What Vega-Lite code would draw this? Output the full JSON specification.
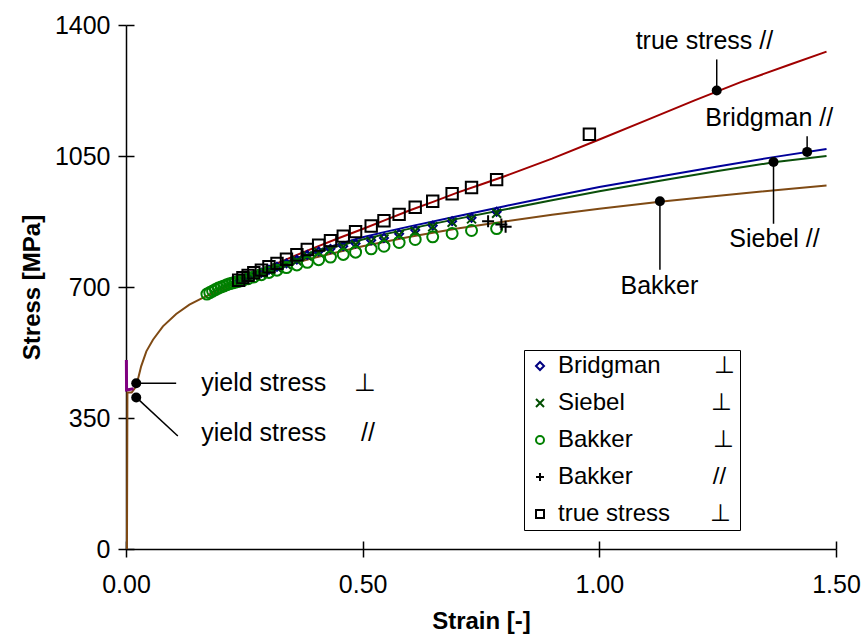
{
  "$schema": "https://vega.github.io/schema/vega-lite/v6.json",
  "width": 710,
  "height": 524,
  "autosize": {"type": "none"},
  "padding": {"left": 126, "top": 25, "right": 28, "bottom": 90},
  "background": "white",
  "config": {
    "view": {"stroke": null},
    "font": "Liberation Sans",
    "axis": {
      "domainColor": "black", "domainWidth": 1.5,
      "tickColor": "black", "tickWidth": 1.5, "tickSize": 8,
      "labelFont": "Liberation Sans", "labelFontSize": 25, "labelColor": "black", "labelFlush": false,
      "titleFont": "Liberation Sans", "titleFontSize": 24, "titleFontWeight": "bold", "titleColor": "black",
      "grid": true, "gridColor": "black", "gridWidth": 1.5, "gridOpacity": 1
    },
    "legend": {"strokeWidth": 1}
  },
  "datasets": {
    "curves": [
      {"curve": "true stress //", "strain": 0.177, "stress": 683},
      {"curve": "true stress //", "strain": 0.24, "stress": 720},
      {"curve": "true stress //", "strain": 0.3, "stress": 753},
      {"curve": "true stress //", "strain": 0.35, "stress": 780},
      {"curve": "true stress //", "strain": 0.4, "stress": 806},
      {"curve": "true stress //", "strain": 0.45, "stress": 831},
      {"curve": "true stress //", "strain": 0.5, "stress": 855},
      {"curve": "true stress //", "strain": 0.55, "stress": 880},
      {"curve": "true stress //", "strain": 0.6, "stress": 905},
      {"curve": "true stress //", "strain": 0.65, "stress": 928},
      {"curve": "true stress //", "strain": 0.7, "stress": 952},
      {"curve": "true stress //", "strain": 0.75, "stress": 974},
      {"curve": "true stress //", "strain": 0.8, "stress": 996},
      {"curve": "true stress //", "strain": 0.9, "stress": 1043},
      {"curve": "true stress //", "strain": 1.0, "stress": 1094},
      {"curve": "true stress //", "strain": 1.1, "stress": 1146},
      {"curve": "true stress //", "strain": 1.2, "stress": 1198},
      {"curve": "true stress //", "strain": 1.3, "stress": 1248},
      {"curve": "true stress //", "strain": 1.4, "stress": 1293},
      {"curve": "true stress //", "strain": 1.48, "stress": 1329},
      {"curve": "Bridgman //", "strain": 0.177, "stress": 681},
      {"curve": "Bridgman //", "strain": 0.2, "stress": 695},
      {"curve": "Bridgman //", "strain": 0.24, "stress": 716},
      {"curve": "Bridgman //", "strain": 0.3, "stress": 748},
      {"curve": "Bridgman //", "strain": 0.35, "stress": 772},
      {"curve": "Bridgman //", "strain": 0.4, "stress": 795},
      {"curve": "Bridgman //", "strain": 0.45, "stress": 815},
      {"curve": "Bridgman //", "strain": 0.5, "stress": 833},
      {"curve": "Bridgman //", "strain": 0.55, "stress": 848},
      {"curve": "Bridgman //", "strain": 0.6, "stress": 862},
      {"curve": "Bridgman //", "strain": 0.7, "stress": 889},
      {"curve": "Bridgman //", "strain": 0.8, "stress": 916},
      {"curve": "Bridgman //", "strain": 0.9, "stress": 942},
      {"curve": "Bridgman //", "strain": 1.0, "stress": 967},
      {"curve": "Bridgman //", "strain": 1.128, "stress": 995},
      {"curve": "Bridgman //", "strain": 1.25, "stress": 1022},
      {"curve": "Bridgman //", "strain": 1.368, "stress": 1047},
      {"curve": "Bridgman //", "strain": 1.48, "stress": 1069},
      {"curve": "Siebel //", "strain": 0.177, "stress": 680},
      {"curve": "Siebel //", "strain": 0.2, "stress": 694},
      {"curve": "Siebel //", "strain": 0.24, "stress": 714},
      {"curve": "Siebel //", "strain": 0.3, "stress": 745},
      {"curve": "Siebel //", "strain": 0.35, "stress": 769},
      {"curve": "Siebel //", "strain": 0.4, "stress": 791},
      {"curve": "Siebel //", "strain": 0.45, "stress": 810},
      {"curve": "Siebel //", "strain": 0.5, "stress": 827},
      {"curve": "Siebel //", "strain": 0.55, "stress": 842},
      {"curve": "Siebel //", "strain": 0.6, "stress": 856},
      {"curve": "Siebel //", "strain": 0.7, "stress": 882},
      {"curve": "Siebel //", "strain": 0.8, "stress": 907},
      {"curve": "Siebel //", "strain": 0.9, "stress": 932},
      {"curve": "Siebel //", "strain": 1.0, "stress": 956},
      {"curve": "Siebel //", "strain": 1.128, "stress": 984},
      {"curve": "Siebel //", "strain": 1.25, "stress": 1010},
      {"curve": "Siebel //", "strain": 1.368, "stress": 1033},
      {"curve": "Siebel //", "strain": 1.48, "stress": 1050},
      {"curve": "Bakker", "strain": 0.002, "stress": 0},
      {"curve": "Bakker", "strain": 0.003, "stress": 418},
      {"curve": "Bakker", "strain": 0.012, "stress": 418},
      {"curve": "Bakker", "strain": 0.02, "stress": 432},
      {"curve": "Bakker", "strain": 0.025, "stress": 452},
      {"curve": "Bakker", "strain": 0.032, "stress": 488},
      {"curve": "Bakker", "strain": 0.043, "stress": 528},
      {"curve": "Bakker", "strain": 0.057, "stress": 559},
      {"curve": "Bakker", "strain": 0.078, "stress": 595},
      {"curve": "Bakker", "strain": 0.106, "stress": 628},
      {"curve": "Bakker", "strain": 0.134, "stress": 653},
      {"curve": "Bakker", "strain": 0.162, "stress": 671},
      {"curve": "Bakker", "strain": 0.2, "stress": 693},
      {"curve": "Bakker", "strain": 0.25, "stress": 720},
      {"curve": "Bakker", "strain": 0.3, "stress": 742},
      {"curve": "Bakker", "strain": 0.35, "stress": 762},
      {"curve": "Bakker", "strain": 0.4, "stress": 779},
      {"curve": "Bakker", "strain": 0.5, "stress": 809},
      {"curve": "Bakker", "strain": 0.6, "stress": 834},
      {"curve": "Bakker", "strain": 0.7, "stress": 856},
      {"curve": "Bakker", "strain": 0.8, "stress": 875},
      {"curve": "Bakker", "strain": 0.9, "stress": 893},
      {"curve": "Bakker", "strain": 1.0, "stress": 909},
      {"curve": "Bakker", "strain": 1.128, "stress": 928},
      {"curve": "Bakker", "strain": 1.2, "stress": 937},
      {"curve": "Bakker", "strain": 1.3, "stress": 950},
      {"curve": "Bakker", "strain": 1.4, "stress": 962},
      {"curve": "Bakker", "strain": 1.48, "stress": 971}
    ],
    "purple": [
      {"strain": 0.0008, "stress": 505},
      {"strain": 0.0012, "stress": 425},
      {"strain": 0.016, "stress": 428}
    ],
    "pts": [
      {"series": "Bridgman ⊥", "strain": 0.238, "stress": 715},
      {"series": "Bridgman ⊥", "strain": 0.247, "stress": 721},
      {"series": "Bridgman ⊥", "strain": 0.258, "stress": 726},
      {"series": "Bridgman ⊥", "strain": 0.270, "stress": 732},
      {"series": "Bridgman ⊥", "strain": 0.286, "stress": 738},
      {"series": "Bridgman ⊥", "strain": 0.302, "stress": 746},
      {"series": "Bridgman ⊥", "strain": 0.319, "stress": 754},
      {"series": "Bridgman ⊥", "strain": 0.339, "stress": 763},
      {"series": "Bridgman ⊥", "strain": 0.361, "stress": 773},
      {"series": "Bridgman ⊥", "strain": 0.383, "stress": 786},
      {"series": "Bridgman ⊥", "strain": 0.407, "stress": 795},
      {"series": "Bridgman ⊥", "strain": 0.432, "stress": 802},
      {"series": "Bridgman ⊥", "strain": 0.459, "stress": 809},
      {"series": "Bridgman ⊥", "strain": 0.485, "stress": 816},
      {"series": "Bridgman ⊥", "strain": 0.518, "stress": 825},
      {"series": "Bridgman ⊥", "strain": 0.545, "stress": 831},
      {"series": "Bridgman ⊥", "strain": 0.577, "stress": 842},
      {"series": "Bridgman ⊥", "strain": 0.611, "stress": 852},
      {"series": "Bridgman ⊥", "strain": 0.648, "stress": 864},
      {"series": "Bridgman ⊥", "strain": 0.689, "stress": 876},
      {"series": "Bridgman ⊥", "strain": 0.730, "stress": 885},
      {"series": "Bridgman ⊥", "strain": 0.783, "stress": 901},
      {"series": "Siebel ⊥", "strain": 0.238, "stress": 713},
      {"series": "Siebel ⊥", "strain": 0.247, "stress": 718},
      {"series": "Siebel ⊥", "strain": 0.258, "stress": 723},
      {"series": "Siebel ⊥", "strain": 0.270, "stress": 729},
      {"series": "Siebel ⊥", "strain": 0.286, "stress": 735},
      {"series": "Siebel ⊥", "strain": 0.302, "stress": 743},
      {"series": "Siebel ⊥", "strain": 0.319, "stress": 751},
      {"series": "Siebel ⊥", "strain": 0.339, "stress": 760},
      {"series": "Siebel ⊥", "strain": 0.361, "stress": 770},
      {"series": "Siebel ⊥", "strain": 0.383, "stress": 783},
      {"series": "Siebel ⊥", "strain": 0.407, "stress": 792},
      {"series": "Siebel ⊥", "strain": 0.432, "stress": 799},
      {"series": "Siebel ⊥", "strain": 0.459, "stress": 806},
      {"series": "Siebel ⊥", "strain": 0.485, "stress": 813},
      {"series": "Siebel ⊥", "strain": 0.518, "stress": 822},
      {"series": "Siebel ⊥", "strain": 0.545, "stress": 828},
      {"series": "Siebel ⊥", "strain": 0.577, "stress": 839},
      {"series": "Siebel ⊥", "strain": 0.611, "stress": 849},
      {"series": "Siebel ⊥", "strain": 0.648, "stress": 861},
      {"series": "Siebel ⊥", "strain": 0.689, "stress": 873},
      {"series": "Siebel ⊥", "strain": 0.730, "stress": 882},
      {"series": "Siebel ⊥", "strain": 0.783, "stress": 897},
      {"series": "Bakker ⊥", "strain": 0.171, "stress": 681},
      {"series": "Bakker ⊥", "strain": 0.177, "stress": 685},
      {"series": "Bakker ⊥", "strain": 0.183, "stress": 689},
      {"series": "Bakker ⊥", "strain": 0.189, "stress": 693},
      {"series": "Bakker ⊥", "strain": 0.195, "stress": 697},
      {"series": "Bakker ⊥", "strain": 0.201, "stress": 700},
      {"series": "Bakker ⊥", "strain": 0.207, "stress": 703},
      {"series": "Bakker ⊥", "strain": 0.213, "stress": 706},
      {"series": "Bakker ⊥", "strain": 0.219, "stress": 709},
      {"series": "Bakker ⊥", "strain": 0.225, "stress": 711},
      {"series": "Bakker ⊥", "strain": 0.231, "stress": 713},
      {"series": "Bakker ⊥", "strain": 0.238, "stress": 715},
      {"series": "Bakker ⊥", "strain": 0.247, "stress": 718},
      {"series": "Bakker ⊥", "strain": 0.258, "stress": 722},
      {"series": "Bakker ⊥", "strain": 0.270, "stress": 727},
      {"series": "Bakker ⊥", "strain": 0.286, "stress": 733},
      {"series": "Bakker ⊥", "strain": 0.302, "stress": 739},
      {"series": "Bakker ⊥", "strain": 0.319, "stress": 745},
      {"series": "Bakker ⊥", "strain": 0.339, "stress": 752},
      {"series": "Bakker ⊥", "strain": 0.361, "stress": 759},
      {"series": "Bakker ⊥", "strain": 0.383, "stress": 766},
      {"series": "Bakker ⊥", "strain": 0.407, "stress": 773},
      {"series": "Bakker ⊥", "strain": 0.432, "stress": 780},
      {"series": "Bakker ⊥", "strain": 0.459, "stress": 787},
      {"series": "Bakker ⊥", "strain": 0.485, "stress": 793},
      {"series": "Bakker ⊥", "strain": 0.518, "stress": 802},
      {"series": "Bakker ⊥", "strain": 0.545, "stress": 809},
      {"series": "Bakker ⊥", "strain": 0.577, "stress": 819},
      {"series": "Bakker ⊥", "strain": 0.611, "stress": 827},
      {"series": "Bakker ⊥", "strain": 0.648, "stress": 834},
      {"series": "Bakker ⊥", "strain": 0.689, "stress": 843},
      {"series": "Bakker ⊥", "strain": 0.730, "stress": 851},
      {"series": "Bakker ⊥", "strain": 0.783, "stress": 856},
      {"series": "Bakker //", "strain": 0.765, "stress": 876},
      {"series": "Bakker //", "strain": 0.793, "stress": 867},
      {"series": "Bakker //", "strain": 0.802, "stress": 861},
      {"series": "true stress ⊥", "strain": 0.238, "stress": 718},
      {"series": "true stress ⊥", "strain": 0.247, "stress": 725},
      {"series": "true stress ⊥", "strain": 0.258, "stress": 731},
      {"series": "true stress ⊥", "strain": 0.270, "stress": 738},
      {"series": "true stress ⊥", "strain": 0.286, "stress": 745},
      {"series": "true stress ⊥", "strain": 0.302, "stress": 754},
      {"series": "true stress ⊥", "strain": 0.319, "stress": 763},
      {"series": "true stress ⊥", "strain": 0.339, "stress": 774},
      {"series": "true stress ⊥", "strain": 0.361, "stress": 786},
      {"series": "true stress ⊥", "strain": 0.383, "stress": 800},
      {"series": "true stress ⊥", "strain": 0.407, "stress": 812},
      {"series": "true stress ⊥", "strain": 0.432, "stress": 824},
      {"series": "true stress ⊥", "strain": 0.459, "stress": 836},
      {"series": "true stress ⊥", "strain": 0.485, "stress": 848},
      {"series": "true stress ⊥", "strain": 0.518, "stress": 863},
      {"series": "true stress ⊥", "strain": 0.545, "stress": 877},
      {"series": "true stress ⊥", "strain": 0.577, "stress": 894},
      {"series": "true stress ⊥", "strain": 0.611, "stress": 913},
      {"series": "true stress ⊥", "strain": 0.648, "stress": 929},
      {"series": "true stress ⊥", "strain": 0.689, "stress": 949},
      {"series": "true stress ⊥", "strain": 0.730, "stress": 966},
      {"series": "true stress ⊥", "strain": 0.783, "stress": 987},
      {"series": "true stress ⊥", "strain": 0.979, "stress": 1108}
    ],
    "leaders": [
      {"strain": 0.0216, "stress": 443, "strain2": 0.106, "stress2": 443},
      {"strain": 0.0216, "stress": 405, "strain2": 0.1095, "stress2": 302},
      {"strain": 1.248, "stress": 1225, "strain2": 1.248, "stress2": 1308},
      {"strain": 1.439, "stress": 1061, "strain2": 1.439, "stress2": 1103},
      {"strain": 1.368, "stress": 1034, "strain2": 1.368, "stress2": 869},
      {"strain": 1.128, "stress": 929, "strain2": 1.128, "stress2": 746}
    ],
    "dots": [
      {"strain": 0.0216, "stress": 443},
      {"strain": 0.0216, "stress": 405},
      {"strain": 1.248, "stress": 1225},
      {"strain": 1.439, "stress": 1061},
      {"strain": 1.368, "stress": 1034},
      {"strain": 1.128, "stress": 929}
    ],
    "labelsCenter": [
      {"label": "true stress //", "strain": 1.222, "stress": 1357},
      {"label": "Bridgman //", "strain": 1.359, "stress": 1152},
      {"label": "Siebel //", "strain": 1.37, "stress": 827},
      {"label": "Bakker", "strain": 1.127, "stress": 702}
    ],
    "labelsLeft": [
      {"label": "yield stress\u00a0\u00a0\u00a0\u00a0⊥", "strain": 0.159, "stress": 443},
      {"label": "yield stress\u00a0\u00a0\u00a0\u00a0\u00a0//", "strain": 0.159, "stress": 310}
    ]
  },
  "encoding": {
    "x": {
      "field": "strain", "type": "quantitative",
      "scale": {"domain": [0, 1.5], "nice": false, "zero": false},
      "axis": {"values": [0, 0.5, 1, 1.5], "format": ".2f", "title": "Strain [-]", "labelPadding": 15, "titlePadding": 12, "gridDash": [0, 516, 8, 3000]}
    },
    "y": {
      "field": "stress", "type": "quantitative",
      "scale": {"domain": [0, 1400], "nice": false, "zero": false},
      "axis": {"values": [0, 350, 700, 1050, 1400], "format": "d", "title": "Stress [MPa]", "labelPadding": 8, "titlePadding": 10, "gridDash": [8, 3000]}
    }
  },
  "layer": [
    {
      "data": {"name": "curves"},
      "mark": {"type": "line", "strokeWidth": 2},
      "encoding": {
        "stroke": {
          "field": "curve", "type": "nominal",
          "scale": {"domain": ["true stress //", "Bridgman //", "Siebel //", "Bakker"], "range": ["#a00000", "#000099", "#0a4f0a", "#7f4a14"]},
          "legend": null
        }
      }
    },
    {
      "data": {"name": "purple"},
      "mark": {"type": "line", "strokeWidth": 3, "color": "#800080"},
      "encoding": {}
    },
    {
      "data": {"name": "pts"},
      "transform": [{"filter": "datum.series === 'Bridgman ⊥'"}],
      "mark": {"type": "point", "filled": false, "size": 64, "strokeWidth": 2, "opacity": 1},
      "encoding": {
        "color": {"field": "series", "type": "nominal", "scale": {"domain": ["Bridgman ⊥", "Siebel ⊥", "Bakker ⊥", "Bakker //", "true stress ⊥"], "range": ["#000080", "#004d00", "#008000", "#000000", "#000000"]},
          "legend": {"title": null, "orient": "none", "legendX": 398, "legendY": 325, "labelExpr": "datum.label === 'Bridgman ⊥' ? 'Bridgman\u00a0\u00a0\u00a0\u00a0\u00a0\u00a0\u00a0\u00a0⊥' : datum.label === 'Siebel ⊥' ? 'Siebel\u00a0\u00a0\u00a0\u00a0\u00a0\u00a0\u00a0\u00a0\u00a0\u00a0\u00a0\u00a0\u00a0⊥' : datum.label === 'Bakker ⊥' ? 'Bakker\u00a0\u00a0\u00a0\u00a0\u00a0\u00a0\u00a0\u00a0\u00a0\u00a0\u00a0\u00a0⊥' : datum.label === 'Bakker //' ? 'Bakker\u00a0\u00a0\u00a0\u00a0\u00a0\u00a0\u00a0\u00a0\u00a0\u00a0\u00a0\u00a0//' : 'true stress\u00a0\u00a0\u00a0\u00a0\u00a0\u00a0⊥\u00a0'", "symbolSize": 64, "symbolStrokeWidth": 2, "labelFontSize": 24, "labelFont": "Liberation Sans", "labelColor": "black", "strokeColor": "black", "fillColor": "white", "padding": 4, "rowPadding": 13, "labelOffset": 6, "labelLimit": 400}},
        "shape": {"field": "series", "type": "nominal", "scale": {"domain": ["Bridgman ⊥", "Siebel ⊥", "Bakker ⊥", "Bakker //", "true stress ⊥"], "range": ["diamond", "M-1,-1L1,1M-1,1L1,-1", "circle", "M-1,0L1,0M0,-1L0,1", "square"]},
          "legend": {"title": null, "orient": "none", "legendX": 398, "legendY": 325, "labelExpr": "datum.label === 'Bridgman ⊥' ? 'Bridgman\u00a0\u00a0\u00a0\u00a0\u00a0\u00a0\u00a0\u00a0⊥' : datum.label === 'Siebel ⊥' ? 'Siebel\u00a0\u00a0\u00a0\u00a0\u00a0\u00a0\u00a0\u00a0\u00a0\u00a0\u00a0\u00a0\u00a0⊥' : datum.label === 'Bakker ⊥' ? 'Bakker\u00a0\u00a0\u00a0\u00a0\u00a0\u00a0\u00a0\u00a0\u00a0\u00a0\u00a0\u00a0⊥' : datum.label === 'Bakker //' ? 'Bakker\u00a0\u00a0\u00a0\u00a0\u00a0\u00a0\u00a0\u00a0\u00a0\u00a0\u00a0\u00a0//' : 'true stress\u00a0\u00a0\u00a0\u00a0\u00a0\u00a0⊥\u00a0'", "symbolSize": 64, "symbolStrokeWidth": 2, "labelFontSize": 24, "labelFont": "Liberation Sans", "labelColor": "black", "strokeColor": "black", "fillColor": "white", "padding": 4, "rowPadding": 13, "labelOffset": 6, "labelLimit": 400}}
      }
    },
    {
      "data": {"name": "pts"},
      "transform": [{"filter": "datum.series === 'Siebel ⊥'"}],
      "mark": {"type": "point", "filled": false, "size": 81, "strokeWidth": 2, "opacity": 1},
      "encoding": {
        "color": {"field": "series", "type": "nominal", "scale": {"domain": ["Bridgman ⊥", "Siebel ⊥", "Bakker ⊥", "Bakker //", "true stress ⊥"], "range": ["#000080", "#004d00", "#008000", "#000000", "#000000"]}},
        "shape": {"field": "series", "type": "nominal", "scale": {"domain": ["Bridgman ⊥", "Siebel ⊥", "Bakker ⊥", "Bakker //", "true stress ⊥"], "range": ["diamond", "M-1,-1L1,1M-1,1L1,-1", "circle", "M-1,0L1,0M0,-1L0,1", "square"]}}
      }
    },
    {
      "data": {"name": "pts"},
      "transform": [{"filter": "datum.series === 'Bakker ⊥'"}],
      "mark": {"type": "point", "filled": false, "size": 121, "strokeWidth": 2, "opacity": 1},
      "encoding": {
        "color": {"field": "series", "type": "nominal", "scale": {"domain": ["Bridgman ⊥", "Siebel ⊥", "Bakker ⊥", "Bakker //", "true stress ⊥"], "range": ["#000080", "#004d00", "#008000", "#000000", "#000000"]}},
        "shape": {"field": "series", "type": "nominal", "scale": {"domain": ["Bridgman ⊥", "Siebel ⊥", "Bakker ⊥", "Bakker //", "true stress ⊥"], "range": ["diamond", "M-1,-1L1,1M-1,1L1,-1", "circle", "M-1,0L1,0M0,-1L0,1", "square"]}}
      }
    },
    {
      "data": {"name": "pts"},
      "transform": [{"filter": "datum.series === 'Bakker //'"}],
      "mark": {"type": "point", "filled": false, "size": 144, "strokeWidth": 2, "opacity": 1},
      "encoding": {
        "color": {"field": "series", "type": "nominal", "scale": {"domain": ["Bridgman ⊥", "Siebel ⊥", "Bakker ⊥", "Bakker //", "true stress ⊥"], "range": ["#000080", "#004d00", "#008000", "#000000", "#000000"]}},
        "shape": {"field": "series", "type": "nominal", "scale": {"domain": ["Bridgman ⊥", "Siebel ⊥", "Bakker ⊥", "Bakker //", "true stress ⊥"], "range": ["diamond", "M-1,-1L1,1M-1,1L1,-1", "circle", "M-1,0L1,0M0,-1L0,1", "square"]}}
      }
    },
    {
      "data": {"name": "pts"},
      "transform": [{"filter": "datum.series === 'true stress ⊥'"}],
      "mark": {"type": "point", "filled": false, "size": 130, "strokeWidth": 2, "opacity": 1},
      "encoding": {
        "color": {"field": "series", "type": "nominal", "scale": {"domain": ["Bridgman ⊥", "Siebel ⊥", "Bakker ⊥", "Bakker //", "true stress ⊥"], "range": ["#000080", "#004d00", "#008000", "#000000", "#000000"]}},
        "shape": {"field": "series", "type": "nominal", "scale": {"domain": ["Bridgman ⊥", "Siebel ⊥", "Bakker ⊥", "Bakker //", "true stress ⊥"], "range": ["diamond", "M-1,-1L1,1M-1,1L1,-1", "circle", "M-1,0L1,0M0,-1L0,1", "square"]}}
      }
    },
    {
      "data": {"name": "leaders"},
      "mark": {"type": "rule", "color": "black", "strokeWidth": 1.5},
      "encoding": {
        "x2": {"field": "strain2"},
        "y2": {"field": "stress2"}
      }
    },
    {
      "data": {"name": "dots"},
      "mark": {"type": "circle", "size": 100, "color": "black", "opacity": 1},
      "encoding": {}
    },
    {
      "data": {"name": "labelsCenter"},
      "mark": {"type": "text", "fontSize": 25, "font": "Liberation Sans", "align": "center", "baseline": "middle", "color": "black"},
      "encoding": {"text": {"field": "label"}}
    },
    {
      "data": {"name": "labelsLeft"},
      "mark": {"type": "text", "fontSize": 25, "font": "Liberation Sans", "align": "left", "baseline": "middle", "color": "black"},
      "encoding": {"text": {"field": "label"}}
    }
  ]
}
